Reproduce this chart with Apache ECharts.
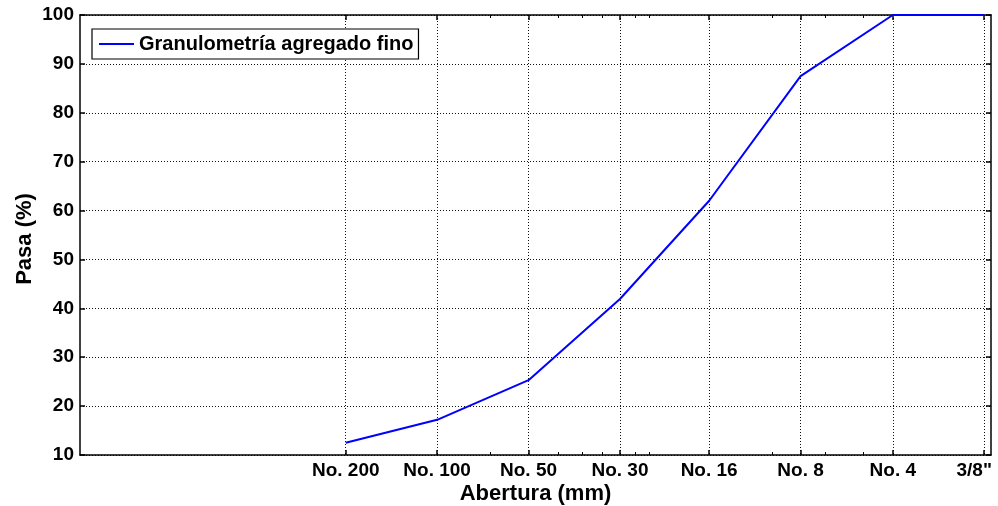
<!DOCTYPE html>
<html>
<head>
<meta charset="utf-8">
<script src="https://cdn.jsdelivr.net/npm/echarts@6/dist/echarts.min.js"></script>
<style>
  html, body { margin: 0; padding: 0; background: #fff; }
  #chart { width: 998px; height: 506px; }
</style>
</head>
<body>
<div id="chart"></div>
<script>
// Sieve openings (mm) and their designations
const sieveSizes = [0.075, 0.15, 0.3, 0.6, 1.18, 2.36, 4.75, 9.5];
const sieveNames = ['No. 200', 'No. 100', 'No. 50', 'No. 30', 'No. 16', 'No. 8', 'No. 4', '3/8"'];
// Percent passing on each sieve
const percentPassing = [12.5, 17.2, 25.3, 41.9, 62.0, 87.5, 100, 100];
// Small secondary tick marks along the opening axis
const minorTicks = [0.225, 0.375, 0.45, 0.525, 0.675, 0.75, 1.9, 2.85, 3.8];

const FONT = '"Liberation Sans", Arial, Helvetica, sans-serif';
const seriesName = 'Granulometría agregado fino';

const chart = echarts.init(document.getElementById('chart'), null, { renderer: 'canvas' });

function sieveLabel(v) {
  let best = 0;
  for (let i = 1; i < sieveSizes.length; i++) {
    if (Math.abs(Math.log(v / sieveSizes[i])) < Math.abs(Math.log(v / sieveSizes[best]))) best = i;
  }
  return best === sieveSizes.length - 1 ? '{edge|' + sieveNames[best] + '}' : sieveNames[best];
}

const black = '#000';
const tickFont = { fontFamily: FONT, fontWeight: 'bold', fontSize: 19, color: black };
const nameFont = { fontFamily: FONT, fontWeight: 'bold', fontSize: 22, color: black };
const gridLine = { show: true, lineStyle: { color: '#111', width: 1, type: [1, 2] } };

const logBase = { type: 'log', logBase: 10, min: 0.01, max: 10 };

const option = {
  animation: false,
  backgroundColor: '#fff',
  grid: { left: 80, top: 15, right: 7, bottom: 51, containLabel: false, outerBoundsMode: 'none' },
  legend: {
    left: 92, top: 29,
    padding: [5, 5, 5, 7],
    borderColor: black, borderWidth: 1.2, backgroundColor: '#fff',
    icon: 'rect', itemWidth: 35, itemHeight: 2,
    textStyle: { fontFamily: FONT, fontWeight: 'bold', fontSize: 20, color: black }
  },
  xAxis: [
    Object.assign({}, logBase, {
      position: 'bottom',
      name: 'Abertura (mm)', nameLocation: 'middle', nameGap: 28, nameTextStyle: nameFont,
      nameMoveOverlap: false,
      axisLine: { show: true, lineStyle: { color: black, width: 1.5 } },
      axisTick: { show: true, inside: true, length: 5, customValues: sieveSizes, lineStyle: { color: black, width: 1.5 } },
      axisLabel: Object.assign({ show: true, margin: 6, customValues: sieveSizes, formatter: sieveLabel,
        rich: { edge: Object.assign({ padding: [0, 20, 0, 0] }, tickFont) } }, tickFont),
      splitLine: gridLine
    }),
    Object.assign({}, logBase, {
      position: 'top',
      axisLine: { show: true, lineStyle: { color: black, width: 1.5 } },
      axisTick: { show: true, inside: true, length: 5, customValues: sieveSizes, lineStyle: { color: black, width: 1.5 } },
      axisLabel: { show: false },
      splitLine: { show: false }
    }),
    Object.assign({}, logBase, {
      position: 'bottom',
      axisLine: { show: false },
      axisTick: { show: true, inside: true, length: 3, customValues: minorTicks, lineStyle: { color: black, width: 1 } },
      axisLabel: { show: false },
      splitLine: { show: false }
    }),
    Object.assign({}, logBase, {
      position: 'top',
      axisLine: { show: false },
      axisTick: { show: true, inside: true, length: 3, customValues: minorTicks, lineStyle: { color: black, width: 1 } },
      axisLabel: { show: false },
      splitLine: { show: false }
    })
  ],
  yAxis: [
    {
      type: 'value', min: 10, max: 100, interval: 10, position: 'left',
      name: 'Pasa (%)', nameLocation: 'middle', nameGap: 44, nameRotate: 90,
      nameMoveOverlap: false,
      nameTextStyle: Object.assign({ padding: [0, 0, 0, -8] }, nameFont),
      axisLine: { show: true, lineStyle: { color: black, width: 1.5 } },
      axisTick: { show: true, inside: true, length: 5, lineStyle: { color: black, width: 1.5 } },
      axisLabel: Object.assign({ show: true, margin: 6 }, tickFont),
      splitLine: gridLine
    },
    {
      type: 'value', min: 10, max: 100, interval: 10, position: 'right',
      axisLine: { show: true, lineStyle: { color: black, width: 1.5 } },
      axisTick: { show: true, inside: true, length: 5, lineStyle: { color: black, width: 1.5 } },
      axisLabel: { show: false },
      splitLine: { show: false }
    }
  ],
  series: [
    {
      name: seriesName,
      type: 'line',
      xAxisIndex: 0, yAxisIndex: 0,
      symbol: 'none',
      lineStyle: { color: '#0000ff', width: 2 },
      itemStyle: { color: '#0000ff' },
      data: sieveSizes.map((s, i) => [s, percentPassing[i]]),
      z: 5
    }
  ]
};

chart.setOption(option);
</script>
</body>
</html>
